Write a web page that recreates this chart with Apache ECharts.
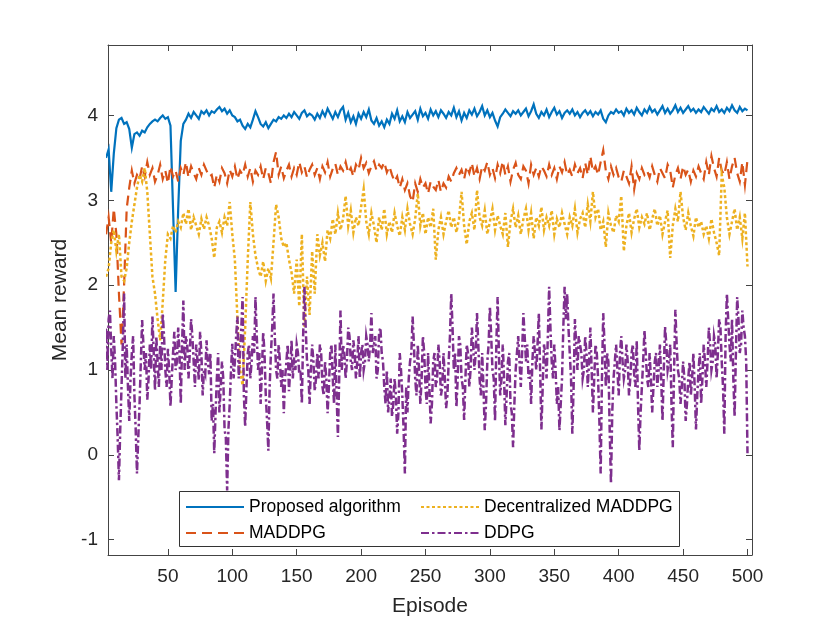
<!DOCTYPE html>
<html>
<head>
<meta charset="utf-8">
<script src="https://cdn.jsdelivr.net/npm/echarts@6/dist/echarts.min.js"></script>
<style>html,body{margin:0;padding:0;background:#fff}#c{width:830px;height:623px}</style>
</head>
<body>
<div id="c"></div>
<script>
// sampling step (episodes) of each series
var STEP_MAIN = 2;   // Proposed, MADDPG, Decentralized MADDPG
var STEP_DDPG = 1;   // DDPG
var xTicks = [50, 100, 150, 200, 250, 300, 350, 400, 450, 500];
var yTicks = [-1, 0, 1, 2, 3, 4];
var seriesNames = ['Proposed algorithm', 'MADDPG', 'Decentralized MADDPG', 'DDPG'];

var proposed = [
3.5,3.6,3.1,3.55,3.85,3.95,3.97,3.9,3.92,3.84,
3.62,3.78,3.8,3.76,3.82,3.8,3.86,3.9,3.93,3.95,
3.93,3.97,4.0,3.96,3.98,3.88,2.9,1.92,2.9,3.7,
3.9,3.95,4.02,3.97,4.04,4.0,3.96,4.05,4.02,4.06,
4.0,4.05,4.03,4.07,4.1,4.05,4.08,4.02,4.06,4.0,
3.98,3.93,3.95,3.88,3.84,3.9,3.86,3.95,4.05,3.98,
3.9,3.87,3.92,3.85,3.9,3.95,3.93,3.98,3.96,4.0,
3.97,4.02,3.98,4.04,4.0,3.96,4.03,4.06,3.99,4.02,
4.0,3.95,4.02,3.97,4.05,3.99,4.08,4.02,3.96,4.04,
3.98,4.06,4.1,3.95,4.03,3.92,3.99,3.9,4.02,3.96,
4.04,3.98,4.07,3.94,3.9,3.97,3.88,3.93,3.86,3.95,
3.9,4.02,3.96,4.06,3.93,3.99,3.92,4.04,3.97,4.01,
4.05,3.95,4.08,3.99,4.03,3.96,4.07,4.0,4.05,3.98,
4.06,4.02,3.97,4.04,4.0,4.09,3.98,4.05,3.94,4.03,
3.97,4.06,4.01,4.08,3.99,4.04,4.11,4.0,4.06,3.98,
4.03,3.94,3.87,3.98,4.02,4.07,4.03,3.99,4.05,4.02,
4.06,4.0,4.04,4.08,3.99,4.05,4.13,4.02,3.97,4.04,
4.0,4.07,3.98,4.04,4.09,4.01,4.05,3.97,4.03,4.06,
4.02,4.07,4.0,4.04,3.98,4.03,4.06,4.01,4.05,3.99,
4.04,4.01,4.06,3.96,3.92,4.0,4.04,4.02,4.07,4.03,
4.05,4.0,4.08,4.03,4.06,4.01,4.09,4.04,4.0,4.07,
4.03,4.1,4.04,4.07,4.01,4.06,4.11,4.03,4.08,4.02,
4.06,4.12,4.04,4.09,4.03,4.07,4.11,4.05,4.08,4.03,
4.07,4.04,4.1,4.06,4.02,4.08,4.05,4.11,4.04,4.07,
4.03,4.09,4.05,4.12,4.06,4.03,4.1,4.05,4.08,4.06
];

var maddpg = [
2.6,2.8,2.5,2.9,2.6,1.9,1.3,2.0,2.9,3.15,
3.35,3.2,3.3,3.25,3.4,3.28,3.45,3.3,3.38,3.22,
3.3,3.42,3.25,3.35,3.2,3.4,3.28,3.35,3.22,3.38,
3.3,3.45,3.27,3.4,3.32,3.25,3.38,3.3,3.42,3.35,
3.28,3.3,3.15,3.3,3.22,3.38,3.32,3.2,3.36,3.28,
3.4,3.25,3.35,3.3,3.42,3.28,3.38,3.22,3.35,3.3,
3.4,3.25,3.38,3.32,3.2,3.45,3.57,3.3,3.4,3.26,
3.35,3.42,3.28,3.38,3.3,3.45,3.33,3.4,3.27,3.36,
3.42,3.3,3.38,3.25,3.4,3.33,3.45,3.28,3.37,3.43,
3.3,3.4,3.35,3.45,3.32,3.38,3.28,3.42,3.36,3.5,
3.38,3.44,3.32,3.4,3.46,3.35,3.42,3.38,3.45,3.33,
3.4,3.3,3.22,3.28,3.15,3.25,3.12,3.2,3.05,2.98,
3.2,3.1,3.25,3.15,3.2,3.08,3.22,3.16,3.12,3.24,
3.1,3.2,3.15,3.28,3.22,3.32,3.38,3.3,3.36,3.25,
3.4,3.32,3.44,3.28,3.38,3.25,3.4,3.35,3.45,3.3,
3.38,3.26,3.42,3.32,3.46,3.3,3.4,3.22,3.36,3.44,
3.3,3.25,3.4,3.35,3.2,3.42,3.3,3.38,3.28,3.4,
3.35,3.28,3.42,3.3,3.38,3.25,3.4,3.33,3.45,3.3,
3.36,3.28,3.42,3.32,3.38,3.26,3.44,3.3,3.52,3.34,
3.4,3.3,3.45,3.59,3.35,3.25,3.4,3.3,3.38,3.27,
3.22,3.35,3.28,3.2,3.4,3.13,3.32,3.25,3.38,3.3,
3.35,3.27,3.4,3.3,3.22,3.38,3.32,3.26,3.42,3.35,
3.15,3.3,3.38,3.25,3.4,3.3,3.36,3.22,3.35,3.28,
3.4,3.32,3.25,3.45,3.3,3.52,3.38,3.28,3.5,3.35,
3.3,3.45,3.25,3.4,3.5,3.32,3.22,3.45,3.18,3.48
];

var decentralized = [
2.1,2.2,2.5,2.65,2.4,2.6,2.1,2.05,2.2,2.5,
2.75,2.95,3.15,3.3,3.22,3.38,3.1,2.6,2.1,1.9,
1.6,1.35,1.8,2.3,2.6,2.55,2.7,2.62,2.75,2.68,
2.85,2.72,2.9,2.65,2.8,2.7,2.6,2.78,2.66,2.8,
2.7,2.55,2.32,2.68,2.75,2.62,2.8,2.7,2.98,2.6,
2.3,1.6,1.0,0.82,1.5,2.3,2.98,2.6,2.35,2.2,
2.1,2.28,2.05,2.2,2.08,2.5,2.95,2.8,2.55,2.45,
2.5,2.3,2.15,1.9,2.3,1.75,2.6,1.5,2.1,1.65,
2.4,1.9,2.6,2.35,2.5,2.28,2.65,2.55,2.78,2.6,
2.85,2.65,2.78,3.05,2.7,2.88,2.62,2.8,2.7,2.92,
3.13,2.75,2.6,2.85,2.7,2.5,2.8,2.65,2.9,2.6,
2.75,2.62,2.85,2.7,2.58,2.8,2.65,2.9,2.72,2.6,
2.78,3.08,2.7,2.85,2.6,2.8,2.68,2.9,2.3,2.65,
2.8,2.6,2.75,2.88,2.68,2.8,2.62,2.78,3.1,2.7,
2.48,2.75,2.85,2.65,3.12,2.8,2.7,2.88,2.6,2.75,
2.9,2.65,2.82,2.7,2.6,2.85,2.45,2.75,2.9,2.68,
2.82,2.6,2.78,2.9,2.65,2.85,2.55,2.8,2.7,2.92,
2.65,2.8,2.7,2.88,2.6,2.78,2.68,2.85,2.72,2.6,
2.8,2.7,2.9,2.62,2.78,2.85,2.68,2.95,2.75,3.1,
2.8,2.9,2.65,2.75,2.45,2.85,2.7,2.62,2.82,2.75,
3.05,2.4,2.7,2.85,2.62,2.78,2.9,2.68,2.8,2.72,
2.85,2.65,2.78,2.9,2.7,2.82,2.6,2.75,2.88,2.32,
2.7,2.9,2.75,3.1,2.8,2.65,2.85,2.7,2.58,2.8,
2.68,2.75,2.6,2.7,2.55,2.78,2.62,2.5,2.35,3.3,
3.15,2.8,2.6,2.75,2.9,2.65,2.8,2.55,2.85,2.22
];

var ddpg = [
1.2,1.5,1.0,1.6,1.7,1.25,0.9,1.4,1.1,0.6,0.2,-0.3,0.3,0.8,1.3,1.9,0.9,1.3,0.8,0.4,
0.9,1.2,1.4,0.7,0.3,-0.22,0.2,0.6,1.1,1.59,1.3,1.0,1.2,0.65,0.9,1.3,1.0,1.63,1.2,0.76,
1.4,1.1,0.8,1.3,1.0,1.67,1.4,1.0,0.8,1.25,1.0,0.57,0.9,1.2,1.45,1.0,1.1,1.5,1.2,0.6,
1.3,1.82,1.0,1.4,1.3,0.9,1.2,1.6,1.4,1.1,0.8,1.3,1.1,0.88,1.45,1.2,0.7,1.0,0.95,1.35,
1.1,0.95,1.2,0.4,0.6,0.02,0.5,0.9,1.2,0.5,0.8,1.1,0.9,0.3,0.2,-0.42,0.3,0.6,1.0,1.31,
0.9,1.1,1.4,1.63,0.9,1.2,1.5,1.86,0.7,0.33,0.8,1.2,1.3,0.9,1.1,1.4,1.2,1.86,1.4,1.0,
1.2,0.6,1.0,1.45,1.2,0.7,0.4,0.05,0.8,1.2,1.5,1.9,1.4,1.0,0.9,1.3,1.1,0.8,1.0,0.49,
0.9,1.1,1.3,0.75,1.0,1.35,0.9,1.15,1.0,1.3,1.2,0.95,1.0,0.6,1.4,1.98,1.5,1.1,1.0,0.6,
1.0,1.3,1.1,0.75,0.9,1.2,0.9,1.3,1.2,0.8,0.7,1.1,0.9,0.49,0.8,1.2,1.3,0.9,0.6,1.3,
0.7,0.21,0.9,1.7,1.0,1.3,1.2,0.9,1.1,1.5,1.4,1.1,1.0,1.35,1.2,0.9,1.1,1.4,0.9,1.2,
1.3,1.0,1.1,1.4,1.3,1.1,1.3,1.67,1.2,1.3,1.4,0.9,1.0,1.45,1.5,1.2,1.1,0.8,0.6,1.0,
0.5,0.7,0.9,0.45,0.6,0.9,0.7,0.25,0.5,1.2,1.0,0.7,0.3,-0.22,0.8,0.5,0.9,1.1,1.2,1.63,
1.3,0.9,0.7,1.3,1.0,0.6,0.9,1.4,1.2,0.8,0.6,1.2,0.8,0.37,0.6,1.1,1.2,0.8,0.9,1.3,
1.1,0.7,0.8,1.2,0.9,0.55,0.7,1.1,1.4,1.9,1.5,1.0,1.2,0.56,0.9,1.4,1.3,0.9,0.8,0.41,
0.9,1.3,1.2,0.8,1.0,1.5,1.3,1.0,1.2,1.67,1.3,0.9,0.7,1.2,0.8,0.29,0.6,1.1,1.3,1.75,
1.4,1.0,0.9,0.4,1.3,1.86,1.2,0.7,0.9,1.3,0.9,0.35,0.7,1.1,1.2,0.6,0.5,0.09,0.6,1.0,
1.2,1.4,1.1,0.8,1.2,1.67,1.4,1.1,1.3,0.9,1.0,0.6,1.1,1.4,1.2,1.0,1.3,1.67,1.0,0.3,
0.8,1.3,1.2,0.9,1.4,1.98,1.5,1.1,0.9,1.3,1.0,0.6,0.8,0.29,0.6,0.9,1.5,1.98,1.6,1.9,
1.5,1.2,0.9,0.25,0.8,1.6,1.3,1.0,1.4,1.3,1.2,0.9,1.0,1.4,1.2,0.8,1.1,1.5,1.0,0.5,
0.9,1.3,1.2,0.9,0.4,-0.22,0.9,1.67,1.3,0.8,1.2,1.1,0.3,-0.34,0.5,0.9,1.1,1.3,1.0,0.7,
1.2,1.4,1.1,0.9,1.0,1.3,1.1,0.7,0.9,1.2,1.3,0.95,0.8,1.35,0.6,0.05,0.5,0.8,1.1,1.47,
1.2,0.9,0.8,1.2,0.9,0.5,0.8,1.1,1.2,0.8,1.0,1.3,0.9,0.4,1.0,1.51,1.3,1.0,1.1,1.3,
0.6,0.09,1.0,1.71,1.3,1.0,0.9,0.6,0.8,1.1,0.9,0.4,0.6,0.9,1.1,0.7,0.9,1.2,0.8,0.3,
0.7,1.0,1.2,0.6,0.9,1.3,1.1,0.8,1.1,1.5,1.3,1.0,1.1,1.4,1.3,0.9,1.2,1.6,1.5,1.1,
0.8,0.25,1.4,1.9,1.6,1.3,1.1,1.6,0.9,0.45,1.2,1.86,1.6,1.2,1.3,1.7,1.5,1.4,1.1,0.02
];

function pairs(arr, step) { return arr.map(function (v, i) { return [step * (i + 1), v]; }); }

var FONT = 'Liberation Sans, Arial, Helvetica, sans-serif';
var TXT = '#262626';
var AX = '#444444';

function xAx(pos, withLabels) {
  return {
    type: 'value', position: pos, min: 3.5, max: 503.5,
    axisLine: { show: true, onZero: false, lineStyle: { color: AX, width: 1 } },
    axisTick: { show: true, inside: true, length: 6, customValues: xTicks, lineStyle: { color: AX, width: 1 } },
    axisLabel: { show: withLabels, customValues: xTicks, fontSize: 19, color: TXT, margin: 12, fontFamily: FONT },
    splitLine: { show: false },
    name: withLabels ? 'Episode' : '', nameLocation: 'middle', nameGap: 41,
    nameTextStyle: { fontSize: 21, color: TXT, fontFamily: FONT }
  };
}
function yAx(pos, withLabels) {
  return {
    type: 'value', position: pos, min: -1.18, max: 4.83,
    axisLine: { show: true, onZero: false, lineStyle: { color: AX, width: 1 } },
    axisTick: { show: true, inside: true, length: 6, customValues: yTicks, lineStyle: { color: AX, width: 1 } },
    axisLabel: { show: withLabels, customValues: yTicks, fontSize: 19, color: TXT, margin: 10, fontFamily: FONT },
    splitLine: { show: false },
    name: withLabels ? 'Mean reward' : '', nameLocation: 'middle', nameGap: 34, nameRotate: 90,
    nameTextStyle: { fontSize: 21, color: TXT, fontFamily: FONT }
  };
}

var colors = ['#0072BD', '#D95319', '#EDB120', '#7E2F8E'];
var dashes = ['solid', [10, 6], [3, 2.5], [8, 3, 2.5, 3]];
var widths = [2.2, 2.2, 2.5, 2.5];
var dataSets = [pairs(proposed, STEP_MAIN), pairs(maddpg, STEP_MAIN), pairs(decentralized, STEP_MAIN), pairs(ddpg, STEP_DDPG)];

var series = dataSets.map(function (d, k) {
  return {
    name: seriesNames[k], type: 'line', xAxisIndex: 0, yAxisIndex: 0,
    data: d, symbol: 'none', showSymbol: false, animation: false,
    lineStyle: { color: colors[k], width: widths[k], type: dashes[k], cap: 'butt', join: 'miter' },
    itemStyle: { color: colors[k] }, z: 2
  };
});

var legendCommon = {
  orient: 'vertical', itemWidth: 58, itemHeight: 14, itemGap: 6, padding: 0, z: 6,
  itemStyle: { opacity: 0, color: 'rgba(0,0,0,0)', borderWidth: 0 },
  textStyle: { fontSize: 17.5, color: '#000', fontFamily: FONT, lineHeight: 20 }
};

var chart = echarts.init(document.getElementById('c'), null, { renderer: 'canvas' });
chart.setOption({
  backgroundColor: '#ffffff',
  animation: false,
  grid: { left: 108, right: 78, top: 45, bottom: 68, containLabel: false },
  xAxis: [xAx('bottom', true), xAx('top', false)],
  yAxis: [yAx('left', true), yAx('right', false)],
  legend: [
    Object.assign({}, legendCommon, { left: 185, top: 497, data: [seriesNames[0], seriesNames[1]] }),
    Object.assign({}, legendCommon, { left: 420, top: 497, data: [seriesNames[2], seriesNames[3]] })
  ],
  graphic: [{
    type: 'rect', z: 5, silent: true,
    shape: { x: 179.5, y: 491.5, width: 500, height: 55 },
    style: { fill: '#ffffff', stroke: '#333333', lineWidth: 1 }
  }],
  series: series
});
</script>
</body>
</html>
